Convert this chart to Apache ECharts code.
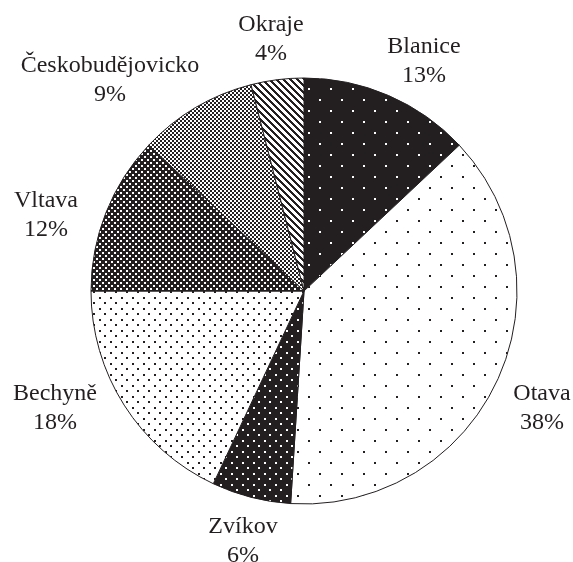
<!DOCTYPE html>
<html>
<head>
<meta charset="utf-8">
<script src="https://cdn.jsdelivr.net/npm/echarts@6/dist/echarts.min.js"></script>
<style>
  html, body { margin: 0; padding: 0; background: #fff; }
  #chart { width: 573px; height: 562px; }
</style>
</head>
<body>
<div id="chart"></div>
<script>
// data, clockwise from 12 o'clock
const names = ['Blanice', 'Otava', 'Zvíkov', 'Bechyně', 'Vltava', 'Českobudějovicko', 'Okraje']
const shares = [13, 38, 6, 18, 12, 9, 4]

// label block centres, relative to pie centre (px)
const labelOffsets = [[120, -230], [238, 117], [-61, 250], [-249, 117], [-258, -76], [-194, -211], [-33, -252]]

const INK = '#231f20'
const CX = 304
const CY = 291

// small canvas tiles used as fill patterns
function tile (w, h, bg, draw) {
  let c = document.createElement('canvas')
  c.width = w
  c.height = h
  let ctx = c.getContext('2d')
  ctx.fillStyle = bg
  ctx.fillRect(0, 0, w, h)
  ctx.fillStyle = bg === '#fff' ? INK : '#fff'
  draw(ctx)
  return { image: c, repeat: 'repeat' }
}

const patterns = [
  // Blanice: black, sparse white dots
  tile(22, 22, INK, ctx => { ctx.fillRect(0, 0, 2, 2); ctx.fillRect(11, 11, 2, 2) }),
  // Otava: white, sparse black dots
  tile(22, 22, '#fff', ctx => { ctx.fillRect(0, 0, 2, 2); ctx.fillRect(11, 11, 2, 2) }),
  // Zvíkov: black, dense white dots
  tile(11, 11, INK, ctx => { ctx.fillRect(0, 0, 2, 2); ctx.fillRect(5, 5, 2, 2) }),
  // Bechyně: white, dense black dots
  tile(11, 11, '#fff', ctx => { ctx.fillRect(0, 0, 2, 2); ctx.fillRect(5, 5, 2, 2) }),
  // Vltava: dark check
  tile(6, 6, INK, ctx => { ctx.fillRect(0, 0, 2, 2); ctx.fillRect(3, 3, 2, 2) }),
  // Českobudějovicko: light check
  tile(4, 4, '#fff', ctx => { ctx.fillRect(0, 0, 2, 2); ctx.fillRect(2, 2, 2, 2) }),
  // Okraje: diagonal hatching
  tile(7, 7, '#fff', ctx => {
    for (let y = 0; y < 7; y++) {
      for (let k = 0; k < 3; k++) ctx.fillRect((y + k) % 7, y, 1, 1)
    }
  })
]

let myChart = echarts.init(document.getElementById('chart'), null, { renderer: 'canvas' })
myChart.setOption({
  animation: false,
  series: [
    {
      type: 'pie',
      center: [CX, CY],
      radius: [0, 213],
      startAngle: 90,
      clockwise: true,
      avoidLabelOverlap: false,
      emphasis: { disabled: true },
      itemStyle: {
        borderColor: INK,
        borderWidth: 1
      },
      label: {
        show: true,
        position: 'outside',
        formatter: '{b}\n{c}%',
        fontFamily: '"Liberation Serif", "Times New Roman", Times, serif',
        fontSize: 24,
        lineHeight: 29,
        color: INK
      },
      labelLine: { show: false },
      labelLayout: function (params) {
        let off = labelOffsets[params.dataIndex]
        return {
          x: CX + off[0],
          y: CY + off[1],
          align: 'center',
          verticalAlign: 'middle'
        }
      },
      data: names.map((n, i) => ({
        name: n,
        value: shares[i],
        itemStyle: { color: patterns[i] }
      }))
    }
  ]
})
</script>
</body>
</html>
